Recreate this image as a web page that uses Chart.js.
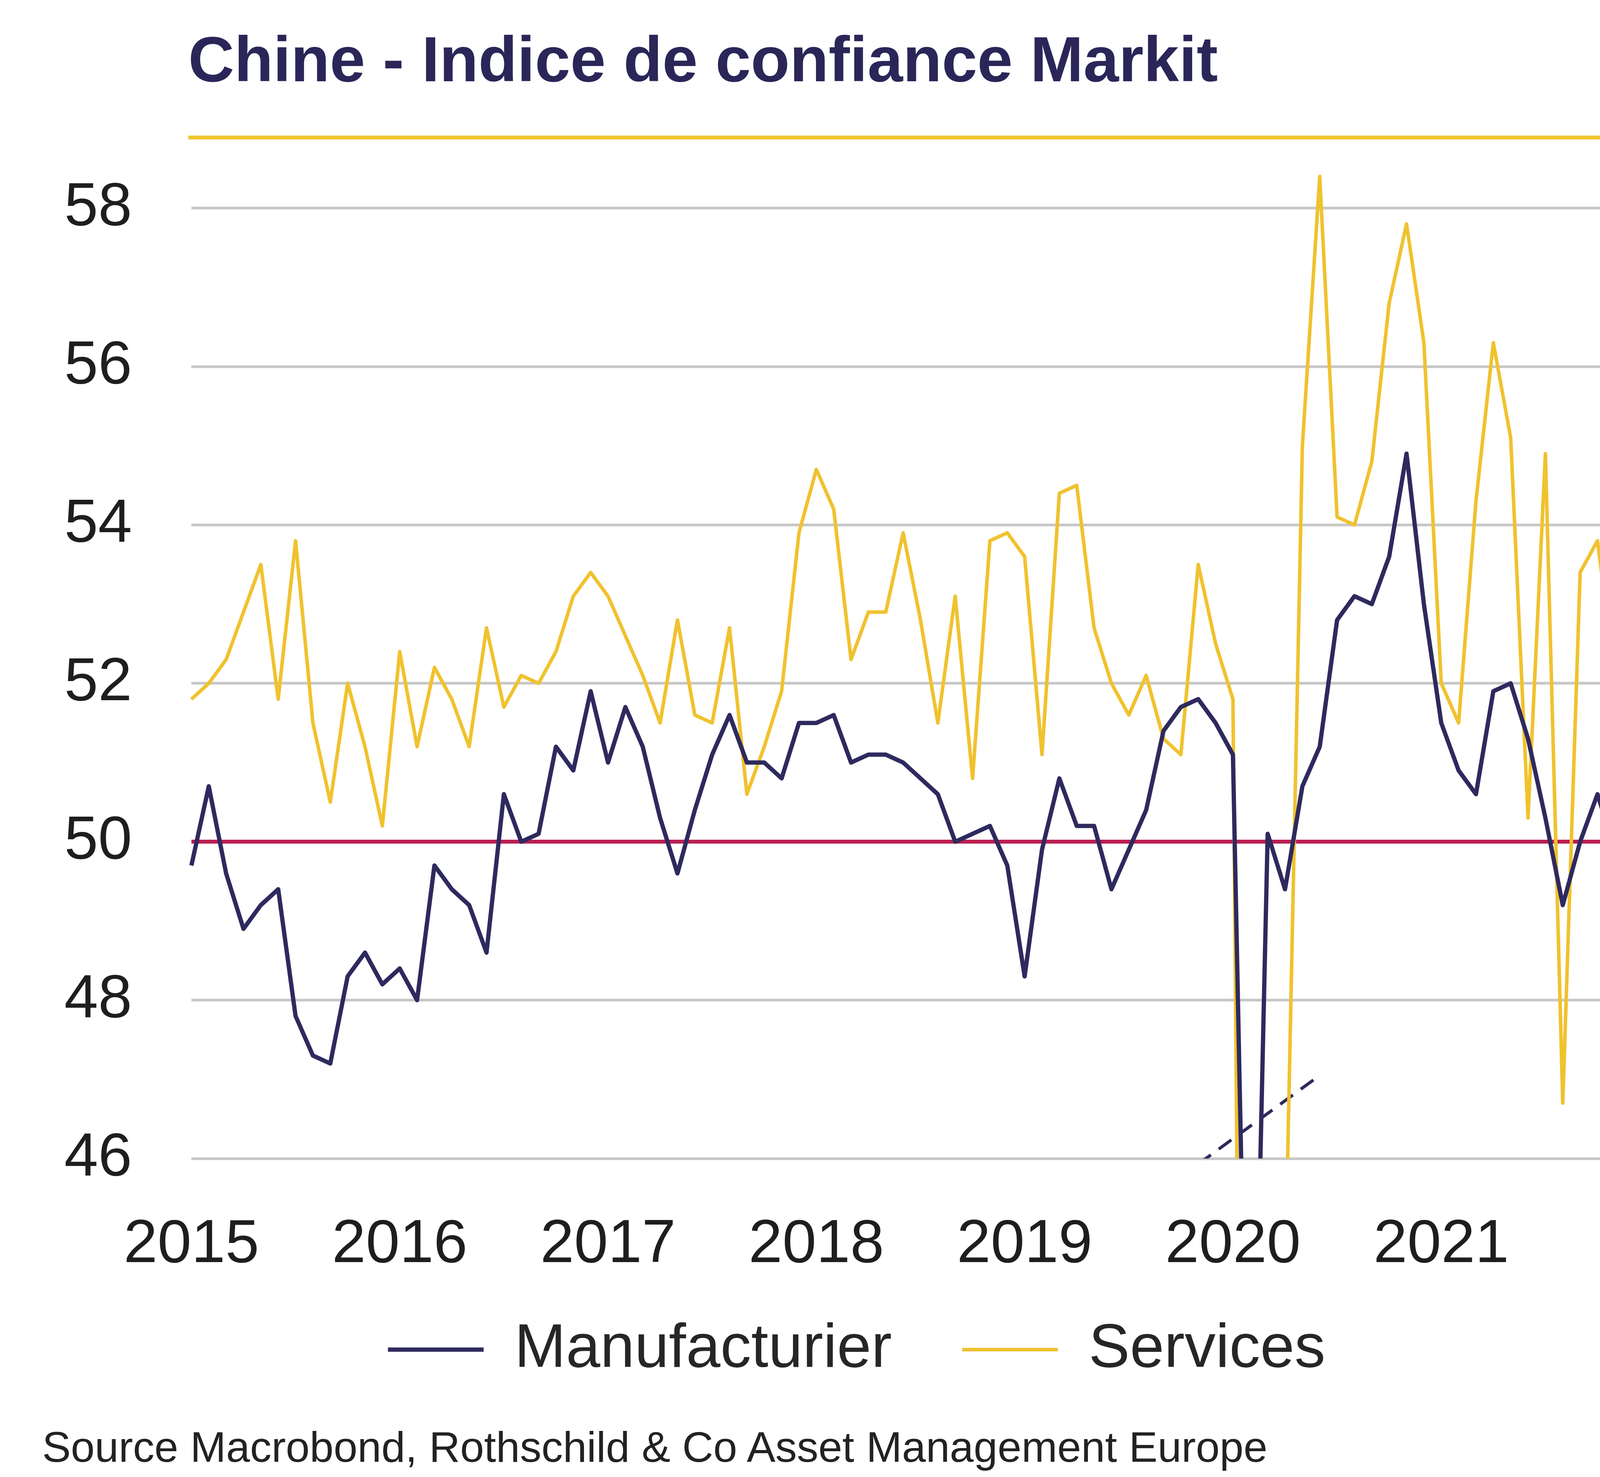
<!DOCTYPE html>
<html>
<head>
<meta charset="utf-8">
<script src="https://cdn.jsdelivr.net/npm/chart.js@4.4.1/dist/chart.umd.min.js"></script>
<style>
  body { margin: 0; width: 4224px; height: 3780px; position: relative; background: #fff; overflow: hidden; font-family: 'Liberation Sans', Arial, sans-serif; }
  #title { position: absolute; left: 482px; top: 70px; font-size: 163px; line-height: 163px; font-weight: bold; color: #2b2658; white-space: nowrap; }
  #rule { position: absolute; left: 482px; top: 347px; width: 3661px; height: 10px; background: #f2c732; }
  #chart { position: absolute; left: 0; top: 0; }
  #source { position: absolute; left: 108px; top: 3648px; font-size: 110px; line-height: 110px; color: #222; white-space: nowrap; }
</style>
</head>
<body>
<div id="title">Chine - Indice de confiance Markit</div>
<div id="rule"></div>
<canvas id="chart" width="4224" height="3780"></canvas>
<div id="source">Source Macrobond, Rothschild &amp; Co Asset Management Europe</div>
<script>
// years shown on the axis, months Jan 2015 .. Nov 2021
var years = ['2015', '2016', '2017', '2018', '2019', '2020', '2021']
var lastMonth = 11
var months = []
for (let y = 0; y < years.length; y++) {
    for (let m = 1; m <= 12; m++) {
        if (y == years.length - 1 && m > lastMonth) break
        months.push(years[y] + '-' + (m < 10 ? '0' + m : m))
    }
}

var manufacturier = [
    49.7, 50.7, 49.6, 48.9, 49.2, 49.4, 47.8, 47.3, 47.2, 48.3, 48.6, 48.2,
    48.4, 48.0, 49.7, 49.4, 49.2, 48.6, 50.6, 50.0, 50.1, 51.2, 50.9, 51.9,
    51.0, 51.7, 51.2, 50.3, 49.6, 50.4, 51.1, 51.6, 51.0, 51.0, 50.8, 51.5,
    51.5, 51.6, 51.0, 51.1, 51.1, 51.0, 50.8, 50.6, 50.0, 50.1, 50.2, 49.7,
    48.3, 49.9, 50.8, 50.2, 50.2, 49.4, 49.9, 50.4, 51.4, 51.7, 51.8, 51.5,
    51.1, 40.3, 50.1, 49.4, 50.7, 51.2, 52.8, 53.1, 53.0, 53.6, 54.9, 53.0,
    51.5, 50.9, 50.6, 51.9, 52.0, 51.3, 50.3, 49.2, 50.0, 50.6, 49.9
]
var services = [
    51.8, 52.0, 52.3, 52.9, 53.5, 51.8, 53.8, 51.5, 50.5, 52.0, 51.2, 50.2,
    52.4, 51.2, 52.2, 51.8, 51.2, 52.7, 51.7, 52.1, 52.0, 52.4, 53.1, 53.4,
    53.1, 52.6, 52.1, 51.5, 52.8, 51.6, 51.5, 52.7, 50.6, 51.2, 51.9, 53.9,
    54.7, 54.2, 52.3, 52.9, 52.9, 53.9, 52.8, 51.5, 53.1, 50.8, 53.8, 53.9,
    53.6, 51.1, 54.4, 54.5, 52.7, 52.0, 51.6, 52.1, 51.3, 51.1, 53.5, 52.5,
    51.8, 26.5, 43.0, 44.4, 55.0, 58.4, 54.1, 54.0, 54.8, 56.8, 57.8, 56.3,
    52.0, 51.5, 54.3, 56.3, 55.1, 50.3, 54.9, 46.7, 53.4, 53.8, 52.1
]
// short dashed mark at the cut-off bottom of the axis
var breakX = ['2019-11', '2020-06']
var breakY = [45.93, 47.05]

var yTicks = [46, 48, 50, 52, 54, 56, 58]

var navy = '#2e2a5e'
var gold = '#f0c22e'
var textColor = '#1e1e1e'

var breakData = []
for (let i = 0; i < breakX.length; i++) {
    breakData.push({x: breakX[i], y: breakY[i]})
}

// legend sits a bit right of the canvas centre in the original
var legendShift = {
    id: 'legendShift',
    afterLayout(chart) {
        var lg = chart.legend
        lg.left += 252
        lg.top -= 40
        lg.bottom -= 40
    }
}

var ctx = document.getElementById('chart').getContext('2d');
var chart = new Chart(ctx, {
    type: 'line',
    data: {
        labels: months,
        datasets: [{
            label: 'Manufacturier',
            data: manufacturier,
            borderColor: navy,
            backgroundColor: navy,
            borderWidth: 11,
            pointRadius: 0,
            tension: 0,
            borderJoinStyle: 'round'
        }, {
            label: 'Services',
            data: services,
            borderColor: gold,
            backgroundColor: gold,
            borderWidth: 9,
            pointRadius: 0,
            tension: 0,
            borderJoinStyle: 'round'
        }, {
            label: 'break',
            data: breakData,
            borderColor: navy,
            borderWidth: 8,
            borderDash: [40, 25],
            pointRadius: 0
        }],
    },
    plugins: [legendShift],
    options: {
        responsive: false,
        devicePixelRatio: 1,
        animation: false,
        layout: { padding: { left: 0, right: 90, top: 411, bottom: 197 } },
        plugins: {
            tooltip: { enabled: false },
            legend: {
                position: 'bottom',
                labels: {
                    filter: item => item.datasetIndex < 2,
                    usePointStyle: true,
                    pointStyle: 'line',
                    pointStyleWidth: 245,
                    padding: 180,
                    color: '#262626',
                    font: { family: "'Liberation Sans', Arial", size: 158 }
                }
            }
        },
        scales: {
            x: {
                offset: false,
                grid: { display: false },
                border: { display: false },
                ticks: {
                    autoSkip: false,
                    maxRotation: 0,
                    padding: 120,
                    color: textColor,
                    font: { family: "'Liberation Sans', Arial", size: 156 },
                    callback: function (v, i) {
                        return months[i].endsWith('-01') ? months[i].slice(0, 4) : null
                    }
                },
                afterFit: function (s) { s.height = 270 }
            },
            y: {
                min: 46,
                max: 58.6,
                afterBuildTicks: function (s) { s.ticks = yTicks.map(v => ({value: v})) },
                ticks: {
                    padding: 152,
                    color: textColor,
                    font: { family: "'Liberation Sans', Arial", size: 156 }
                },
                grid: {
                    drawTicks: false,
                    color: c => c.tick && c.tick.value == 50 ? '#bb1f52' : '#c8c8c8',
                    lineWidth: c => c.tick && c.tick.value == 50 ? 10 : 7
                },
                border: { display: false },
                afterFit: function (s) { s.width = 490 }
            }
        }
    },
});
</script>
</body>
</html>
